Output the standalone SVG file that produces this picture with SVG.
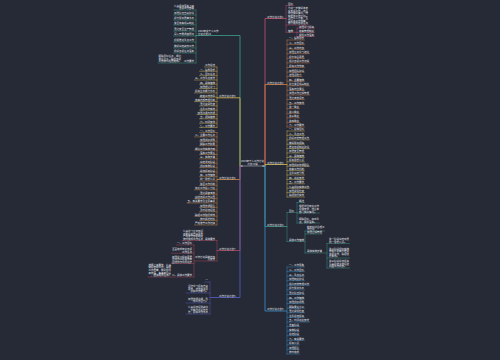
<svg xmlns="http://www.w3.org/2000/svg" width="500" height="360" viewBox="0 0 500 360">
<style>
.bg{fill:#262a36}
text{font-family:"Noto Sans CJK SC","Noto Sans",sans-serif;font-size:2.5px;fill:#e4e7ee}
.e{text-anchor:end}
.m{text-anchor:middle}
#connectors path{fill:none;stroke-linecap:round;stroke-linejoin:round}
.tr{stroke-width:0.8}
.ch{stroke-width:0.45}
.l1{stroke:#3aa188}.l2{stroke:#d8b84c}.l3{stroke:#d08a3e}.l4{stroke:#b5475e}.l5{stroke:#5560c8}
.r1{stroke:#c74f6b}.r2{stroke:#d9803f}.r3{stroke:#d8bf55}.r4{stroke:#3f9a88}.r5{stroke:#3a8fcc}
.cu{stroke:#c9ced8;stroke-width:0.5}
</style>
<rect class="bg" x="0" y="0" width="500" height="360"/>
<g id="connectors">
<path class="tr l1" d="M242,166H240V35.5H196"/>
<path class="tr l2" d="M242,166H240V97.8H217"/>
<path class="tr l3" d="M242,166H240V179.5H217"/>
<path class="tr l4" d="M242,166H240V250.5H217"/>
<path class="tr l5" d="M242,166H240V297.5H210"/>
<path class="tr r1" d="M263,166H265V18.5H286"/>
<path class="tr r3" d="M263,166H265V164.5H287"/>
<path class="tr r2" d="M263,166H265V84.5H287"/>
<path class="tr r4" d="M263,166H265V226.5H287"/>
<path class="tr r5" d="M263,166H265V311H287"/>
<path class="cu" d="M241,166H264"/>
<path class="ch l1" d="M196,10V63M173.5,10H196M173.5,15H196M173.5,20H196M173.5,25H196M173.5,31H196M173.5,36H196M173.5,42H196M173.5,48H196M173.5,53H196M158,63H196"/>
<path class="ch l2" d="M217,67V127.5M204.5,67H217M199.5,71.3H217M199.5,75.6H217M194.5,80H217M199.5,84.3H217M199.5,88.6H217M194.5,92.9H217M199.5,97.2H217M194.5,101.6H217M199.5,105.9H217M199.5,110.2H217M197,114.5H217M199.5,118.8H217M199.5,123.2H217M199.5,127.5H217"/>
<path class="ch l3" d="M217,132.5V225M199.5,132.5H217M194.5,136.9H217M199.5,141.3H217M199.5,145.7H217M194.5,150.1H217M199.5,154.5H217M199.5,158.9H217M199.5,163.3H217M199.5,167.7H217M199.5,172.1H217M199.5,176.6H217M199.5,181H217M199.5,185.4H217M194.5,189.8H217M199.5,194.2H217M194.5,198.6H217M187,203H217M199.5,207.4H217M199.5,211.8H217M194.5,216.2H217M199.5,220.6H217M194.5,225H217"/>
<path class="ch l4" d="M217,240.5V261M182,240.5H217M194,261H217M194,245V277M176.5,245H194M171.5,253.2H194M171.5,263.5H194M148,277H194"/>
<path class="ch l5" d="M210,282V314M204.5,282H210M186,293H210M186,303H210M186,314H210"/>
<path class="ch r1" d="M286,5.5V32.3M286,5.5H293.5M286,25H309M286,32.3H297M297,28.1V36.5M297,28.1H314.5M297,32.3H314.5M297,36.5H314.5"/>
<path class="ch r2" d="M287,40V127M287,40H304.5M287,44.6H304.5M287,49.2H304.5M287,53.7H309.5M287,58.3H304.5M287,62.9H309.5M287,67.5H304.5M287,72.1H304.5M287,76.6H302M287,81.2H304.5M287,85.8H309.5M287,90.4H304.5M287,95H309.5M287,99.5H304.5M287,104.1H304.5M287,108.7H299.5M287,113.3H299.5M287,117.9H299.5M287,122.4H299.5M287,127H304.5"/>
<path class="ch r3" d="M287,131V197M287,131H304.5M287,135.4H304.5M287,139.8H309.5M287,144.2H304.5M287,148.6H309.5M287,153H304.5M287,157.4H304.5M287,161.8H304.5M287,166.2H309.5M287,170.6H304.5M287,175H304.5M287,179.4H304.5M287,183.8H304.5M287,188.2H309.5M287,192.6H304.5M287,197H304.5"/>
<path class="ch r4" d="M287,212.5V241.5M287,212.5H297M297,202.5V223M297,202.5H304.5M297,213H319.5M297,223H319.5M287,241.5H305M305,231V253M305,231H324.5M305,234H322M305,253H327M327,243.5V268M327,243.5H349.5M327,258H349.5M327,268H349.5"/>
<path class="ch r5" d="M287,267V354M287,267H304.5M287,271.6H304.5M287,276.2H304.5M287,280.7H304.5M287,285.3H309.5M287,289.9H304.5M287,294.5H304.5M287,299.1H304.5M287,303.6H304.5M287,308.2H304.5M287,312.8H304.5M287,317.4H304.5M287,322H309.5M287,326.5H299.5M287,331.1H299.5M287,335.7H299.5M287,340.3H304.5M287,344.9H299.5M287,349.4H299.5M287,354H299.5"/>
</g>
<g id="center">
<text class="m" x="252.5" y="161.8">2023年个人工作计划</text>
<text class="m" x="252.5" y="165.2">范文10篇</text>
</g>
<g id="branch-l1">
<text x="198" y="32.4">2023年度个人工作</text>
<text x="198" y="35">计划范文10</text>
<text class="e" x="194" y="6.8">认真贯彻落实上级</text>
<text class="e" x="194" y="9.4">各项工作部署</text>
<text class="e" x="194" y="14.4">加强队伍自身建设</text>
<text class="e" x="194" y="19.4">提升服务质量水平</text>
<text class="e" x="194" y="24.4">健全完善规章制度</text>
<text class="e" x="194" y="30.4">强化安全生产管理</text>
<text class="e" x="194" y="35.4">深入开展调查研究</text>
<text class="e" x="194" y="41.4">积极推进重点工作</text>
<text class="e" x="194" y="47.4">做好宣传教育工作</text>
<text class="e" x="194" y="52.4">抓好各项任务落实</text>
<text class="e" x="194" y="62.4">工作要求</text>
<text class="e" x="181" y="57.2">明确目标任务，细化</text>
<text class="e" x="181" y="59.8">责任分工，确保各项</text>
<text class="e" x="181" y="62.4">工作按时保质完成。</text>
</g>
<g id="branch-l2">
<text x="219" y="97.2">工作计划范文9</text>
<text class="e" x="215" y="66.4">工作总结</text>
<text class="e" x="215" y="70.7">一、指导思想</text>
<text class="e" x="215" y="75">二、目标任务</text>
<text class="e" x="215" y="79.4">三、工作重点安排</text>
<text class="e" x="215" y="83.7">四、具体措施</text>
<text class="e" x="215" y="88">加强理论学习</text>
<text class="e" x="215" y="92.3">提高业务能力水平</text>
<text class="e" x="215" y="96.6">转变工作作风</text>
<text class="e" x="215" y="101">完善内部管理机制</text>
<text class="e" x="215" y="105.3">强化监督检查</text>
<text class="e" x="215" y="109.6">注重工作实效</text>
<text class="e" x="215" y="113.9">加强沟通与协调</text>
<text class="e" x="215" y="118.2">五、保障措施</text>
<text class="e" x="215" y="122.6">六、时间安排</text>
<text class="e" x="215" y="126.9">七、工作要求</text>
</g>
<g id="branch-l3">
<text x="219" y="178.9">工作计划范文8</text>
<text class="e" x="215" y="131.9">一、工作目标</text>
<text class="e" x="215" y="136.3">二、主要工作任务</text>
<text class="e" x="215" y="140.7">加强组织领导</text>
<text class="e" x="215" y="145.1">明确工作职责</text>
<text class="e" x="215" y="149.5">细化工作实施方案</text>
<text class="e" x="215" y="153.9">落实工作责任</text>
<text class="e" x="215" y="158.3">三、实施步骤</text>
<text class="e" x="215" y="162.7">宣传发动阶段</text>
<text class="e" x="215" y="167.1">组织实施阶段</text>
<text class="e" x="215" y="171.5">总结提高阶段</text>
<text class="e" x="215" y="176">四、工作措施</text>
<text class="e" x="215" y="180.4">统一思想认识</text>
<text class="e" x="215" y="184.8">健全工作机制</text>
<text class="e" x="215" y="189.2">加大工作投入力度</text>
<text class="e" x="215" y="193.6">强化督查考核</text>
<text class="e" x="215" y="198">营造良好工作氛围</text>
<text class="e" x="215" y="202.4">五、有关要求及注意事项</text>
<text class="e" x="215" y="206.8">加强协调配合</text>
<text class="e" x="215" y="211.2">及时总结经验</text>
<text class="e" x="215" y="215.6">确保工作取得成效</text>
<text class="e" x="215" y="220">按时报送材料</text>
<text class="e" x="215" y="224.4">严格遵守工作纪律</text>
</g>
<g id="branch-l4">
<text x="219" y="249.9">工作计划范文7</text>
<text class="e" x="215" y="239.9">具体要求</text>
<text class="e" x="203" y="232.1">认真学习业务知识</text>
<text class="e" x="203" y="234.7">不断提高自身素质</text>
<text class="e" x="203" y="237.3">严格遵守各项制度</text>
<text class="e" x="203" y="239.9">按时完成工作任务</text>
<text class="e" x="215" y="257.7">工作计划具体内容</text>
<text class="e" x="215" y="260.3">及安排</text>
<text class="e" x="192" y="244.4">一、工作目标</text>
<text class="e" x="192" y="250">全面完成年度各项</text>
<text class="e" x="192" y="252.6">工作任务</text>
<text class="e" x="192" y="257.7">加强学习提高素质</text>
<text class="e" x="192" y="260.3">改进作风提高效率</text>
<text class="e" x="192" y="262.9">团结协作共同进步</text>
<text class="e" x="192" y="276.4">二、具体工作要求</text>
<text class="e" x="171" y="265.8">按照上级要求，认真</text>
<text class="e" x="171" y="268.4">做好各项工作，确保</text>
<text class="e" x="171" y="271">工作质量，做到件件</text>
<text class="e" x="171" y="273.6">有着落，事事有回音</text>
<text class="e" x="171" y="276.2">，圆满完成任务。</text>
</g>
<g id="branch-l5">
<text x="219" y="296.9">工作计划范文6</text>
<text class="e" x="208" y="281.4">一</text>
<text class="e" x="208" y="287">坚持学习提高自身</text>
<text class="e" x="208" y="289.6">素质，增强服务意</text>
<text class="e" x="208" y="292.2">识和工作能力。</text>
<text class="e" x="208" y="299.6">加强协调沟通，形</text>
<text class="e" x="208" y="302.2">成工作合力。</text>
<text class="e" x="208" y="308.2">认真总结经验教训</text>
<text class="e" x="208" y="310.8">，不断改进工作方</text>
<text class="e" x="208" y="313.4">法，提高工作水平</text>
</g>
<g id="branch-r1">
<text x="267" y="17.9">工作计划范文1</text>
<text x="288" y="4.9">目标</text>
<text x="288" y="9.3">为进一步做好本年</text>
<text x="288" y="11.8">度各项工作，结合</text>
<text x="288" y="14.3">单位实际情况，特</text>
<text x="288" y="16.8">制定本工作计划。</text>
<text x="288" y="19.3">坚持以人为本，全</text>
<text x="288" y="21.8">面提高工作质量，</text>
<text x="288" y="24.3">努力完成各项任务</text>
<text x="288" y="31.8">措施</text>
<text x="299" y="27.6">加强学习提高</text>
<text x="299" y="31.8">完善管理制度</text>
<text x="299" y="36">狠抓工作落实</text>
</g>
<g id="branch-r2">
<text x="267" y="83.9">工作计划范文2</text>
<text x="289" y="39.4">一、指导思想</text>
<text x="289" y="44">二、工作目标</text>
<text x="289" y="48.6">三、工作内容</text>
<text x="289" y="53.1">加强业务学习培训</text>
<text x="289" y="57.7">提升综合素质</text>
<text x="289" y="62.3">规范各项工作流程</text>
<text x="289" y="66.9">提高工作效率</text>
<text x="289" y="71.5">加强团队建设</text>
<text x="289" y="76">增强凝聚力</text>
<text x="289" y="80.6">四、主要措施</text>
<text x="289" y="85.2">建立健全规章制度</text>
<text x="289" y="89.8">落实岗位责任</text>
<text x="289" y="94.4">加强工作过程管理</text>
<text x="289" y="98.9">强化考核评价</text>
<text x="289" y="103.5">五、工作安排</text>
<text x="289" y="108.1">第一季度</text>
<text x="289" y="112.7">第二季度</text>
<text x="289" y="117.3">第三季度</text>
<text x="289" y="121.8">第四季度</text>
<text x="289" y="126.4">六、工作要求</text>
</g>
<g id="branch-r3">
<text x="267" y="163.9">工作计划范文3</text>
<text x="289" y="130.4">一、总体目标</text>
<text x="289" y="134.8">二、重点工作</text>
<text x="289" y="139.2">抓好日常管理工作</text>
<text x="289" y="143.6">做好服务保障</text>
<text x="289" y="148">推进各项制度建设</text>
<text x="289" y="152.4">加强安全管理</text>
<text x="289" y="156.8">三、具体措施</text>
<text x="289" y="161.2">提高思想认识</text>
<text x="289" y="165.6">加强组织协调配合</text>
<text x="289" y="170">完善工作机制</text>
<text x="289" y="174.4">注重宣传引导</text>
<text x="289" y="178.8">四、进度安排</text>
<text x="289" y="183.2">五、工作要求</text>
<text x="289" y="187.6">认真组织实施工作</text>
<text x="289" y="192">加强督促检查</text>
<text x="289" y="196.4">确保取得实效</text>
</g>
<g id="branch-r4">
<text x="267" y="225.9">工作计划范文4</text>
<text x="289" y="211.9">目标</text>
<text x="299" y="201.9">概述</text>
<text x="299" y="207.3">根据单位年度工作</text>
<text x="299" y="209.9">总体安排，结合本</text>
<text x="299" y="212.5">部门实际情况。</text>
<text x="299" y="219.9">明确目标，突出重</text>
<text x="299" y="222.5">点，狠抓落实。</text>
<text x="289" y="240.9">具体工作措施</text>
<text x="307" y="227.8">制定科学合理工</text>
<text x="307" y="230.4">作计划</text>
<text x="307" y="233.4">加强过程管理</text>
<text x="307" y="252.4">具体实施步骤</text>
<text x="329" y="240.3">第一阶段宣传动员</text>
<text x="329" y="242.9">统一思想认识。</text>
<text x="329" y="249.6">第二阶段组织实施</text>
<text x="329" y="252.2">按照计划有序推进</text>
<text x="329" y="254.8">各项工作，确保取</text>
<text x="329" y="257.4">得实效。</text>
<text x="329" y="262.2">第三阶段总结提高</text>
<text x="329" y="264.8">认真总结工作经验</text>
<text x="329" y="267.4">巩固工作成果。</text>
</g>
<g id="branch-r5">
<text x="267" y="310.4">工作计划范文5</text>
<text x="289" y="266.4">一、工作思路</text>
<text x="289" y="271">二、工作目标</text>
<text x="289" y="275.6">三、重点任务</text>
<text x="289" y="280.1">加强制度建设</text>
<text x="289" y="284.7">规范日常管理工作</text>
<text x="289" y="289.3">提升服务水平</text>
<text x="289" y="293.9">强化队伍建设</text>
<text x="289" y="298.5">四、工作措施</text>
<text x="289" y="303">加强组织领导</text>
<text x="289" y="307.6">明确责任分工</text>
<text x="289" y="312.2">强化督促检查</text>
<text x="289" y="316.8">注重总结提高</text>
<text x="289" y="321.4">五、时间进度安排</text>
<text x="289" y="325.9">准备阶段</text>
<text x="289" y="330.5">实施阶段</text>
<text x="289" y="335.1">总结阶段</text>
<text x="289" y="339.7">六、有关要求</text>
<text x="289" y="344.3">提高认识</text>
<text x="289" y="348.8">加强配合</text>
<text x="289" y="353.4">按时完成</text>
</g>
</svg>
